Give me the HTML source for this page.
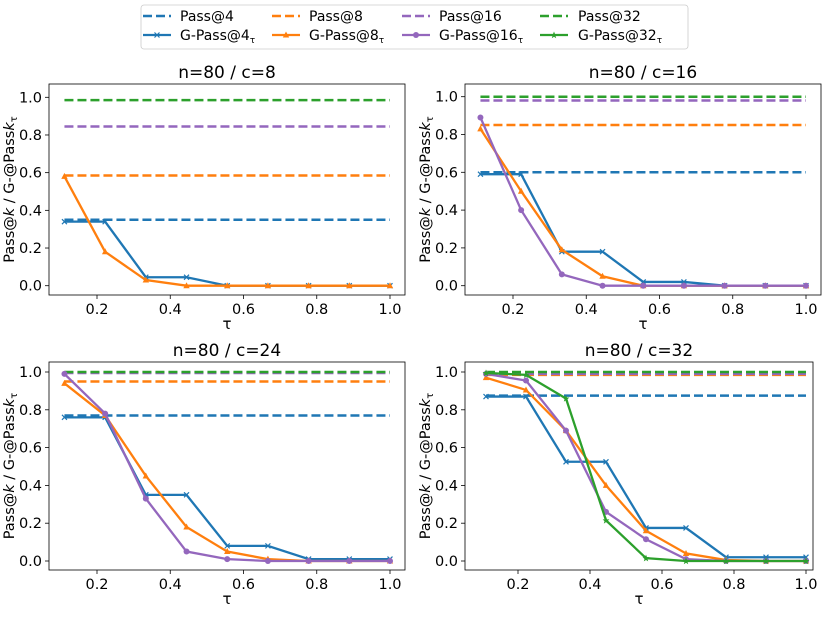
<!DOCTYPE html>
<html><head><meta charset="utf-8"><style>
body{margin:0;background:#fff;font-family:"Liberation Sans","DejaVu Sans",sans-serif;}
svg text{font-family:"DejaVu Sans","Liberation Sans",sans-serif;}
</style></head><body>
<svg id="c" width="828" height="612" xmlns="http://www.w3.org/2000/svg"></svg>
<script>
const taus=[1/9,2/9,3/9,4/9,5/9,6/9,7/9,8/9,1];
const xTicks=[0.2,0.4,0.6,0.8,1.0];
const yTicks=[0.0,0.2,0.4,0.6,0.8,1.0];
const titles=["n=80 / c=8","n=80 / c=16","n=80 / c=24","n=80 / c=32"];
const pass4=[0.35,0.60,0.77,0.875];
const pass8=[0.585,0.85,0.95,0.985];
const pass16=[0.845,0.98,0.995,0.99];
const pass32=[0.985,1.0,1.0,1.0];
const g4=[[.34,.34,.045,.045,0,0,0,0,0],[.59,.59,.18,.18,.02,.02,0,0,0],[.76,.76,.35,.35,.08,.08,.01,.01,.01],[.87,.87,.525,.525,.175,.175,.02,.02,.02]];
const g8=[[.58,.18,.03,0,0,0,0,0,0],[.83,.5,.19,.05,0,0,0,0,0],[.94,.77,.45,.18,.05,.01,0,0,0],[.97,.905,.69,.40,.16,.04,.005,0,0]];
const g16=[null,[.89,.40,.06,0,0,0,0,0,0],[.99,.78,.33,.05,.01,0,0,0,0],[.99,.955,.69,.26,.115,.01,0,0,0]];
const g32=[null,null,null,[.995,.985,.86,.215,.015,0,0,0,0]];
const C={b:"#1f77b4",o:"#ff7f0e",p:"#9467bd",g:"#2ca02c"};
const panels=[
 {L:49,R:405,T:84,B:295,x02:97,x10:390,y0:285.7,y1:97.3},
 {L:465,R:821,T:84,B:295,x02:513,x10:806,y0:285.7,y1:96.7},
 {L:49,R:405,T:362,B:570,x02:97,x10:390,y0:561,y1:372},
 {L:465,R:813,T:362,B:570,x02:518,x10:806,y0:561,y1:372}];
const svg=document.getElementById('c');
const NS="http://www.w3.org/2000/svg";
function mk(t,a,p){const e=document.createElementNS(NS,t);for(const k in a)e.setAttribute(k,a[k]);(p||svg).appendChild(e);return e;}
function marker(g,type,x,y,col){
 if(type==='x'){const s=2.5;mk('path',{d:`M${x-s},${y-s}L${x+s},${y+s}M${x-s},${y+s}L${x+s},${y-s}`,stroke:col,'stroke-width':1.2},g);}
 else if(type==='^'){mk('path',{d:`M${x},${y-3.5}L${x+3.2},${y+2.5}L${x-3.2},${y+2.5}Z`,fill:col},g);}
 else if(type==='o'){mk('circle',{cx:x,cy:y,r:3,fill:col},g);}
 else {mk('path',{d:`M${x},${y-3.5}L${x+1},${y-1}L${x+3.4},${y-1}L${x+1.5},${y+.8}L${x+2.2},${y+3.2}L${x},${y+1.8}L${x-2.2},${y+3.2}L${x-1.5},${y+.8}L${x-3.4},${y-1}L${x-1},${y-1}Z`,fill:col},g);}
}
panels.forEach((P,i)=>{
 const g=mk('g',{});
 
 
 const sx=v=>P.x02+(v-0.2)*(P.x10-P.x02)/0.8;
 const sy=v=>P.y0+v*(P.y1-P.y0);
 const t=mk('text',{x:(P.L+P.R)/2,y:P.T-6,'text-anchor':'middle','font-size':17},g);t.textContent=titles[i];
 
 xTicks.forEach(v=>{mk('line',{x1:sx(v),x2:sx(v),y1:P.B,y2:P.B+4,stroke:'#000','stroke-width':0.8},g);
  const tt=mk('text',{x:sx(v),y:P.B+19,'text-anchor':'middle','font-size':14.5},g);tt.textContent=v.toFixed(1);});
 yTicks.forEach(v=>{mk('line',{x1:P.L-4,x2:P.L,y1:sy(v),y2:sy(v),stroke:'#000','stroke-width':0.8},g);
  const tt=mk('text',{x:P.L-7,y:sy(v)+5,'text-anchor':'end','font-size':14.5},g);tt.textContent=v.toFixed(1);});
 const xl=mk('text',{x:(P.L+P.R)/2,y:P.B+34,'text-anchor':'middle','font-size':15},g);xl.textContent='τ';
 
 const yl=mk('text',{x:0,y:0,'text-anchor':'middle','font-size':14.5,transform:`translate(${P.L-35},${(P.T+P.B)/2}) rotate(-90)`},g);
 yl.innerHTML='Pass@<tspan font-style="italic">k</tspan> / G-@Pass<tspan font-style="italic">k</tspan><tspan font-size="10" dy="3">τ</tspan>';
 
 [[pass4,C.b],[pass8,C.o],[pass16,C.p],[pass32,C.g]].forEach(([a,col])=>{
  const l=mk('line',{x1:sx(taus[0]),x2:sx(1),y1:sy(a[i]),y2:sy(a[i]),stroke:col,'stroke-width':2.5,'stroke-dasharray':'9,4'},g);
  });
 [[g4,C.b,'x'],[g8,C.o,'^'],[g16,C.p,'o'],[g32,C.g,'*']].forEach(([a,col,m])=>{
  const d=a[i];if(!d)return;
  const pl=mk('polyline',{points:d.map((v,j)=>sx(taus[j])+','+sy(v)).join(' '),fill:'none',stroke:col,'stroke-width':2.3},g);
  
  d.forEach((v,j)=>marker(g,m,sx(taus[j]),sy(v),col));});
 mk('rect',{x:P.L,y:P.T,width:P.R-P.L,height:P.B-P.T,fill:'none',stroke:'#000','stroke-width':0.8},g);
});
// legend
const lg=mk('g',{});


mk('rect',{x:141,y:5,width:547,height:44,rx:3,fill:'#fff',stroke:'#ccc','stroke-width':0.8},lg);
const legCols=[143,272,402,540],legText=[180,309,439,578];
const legCol=[C.b,C.o,C.p,C.g],legM=['x','^','o','*'];
const legA=['Pass@4','Pass@8','Pass@16','Pass@32'],legB=['4','8','16','32'];
legCols.forEach((x,i)=>{
 mk('line',{x1:x,x2:x+28,y1:16,y2:16,stroke:legCol[i],'stroke-width':2.5,'stroke-dasharray':'9,4'},lg);
 const a=mk('text',{x:legText[i],y:21,'font-size':14},lg);a.textContent=legA[i];
 
 mk('line',{x1:x,x2:x+28,y1:35,y2:35,stroke:legCol[i],'stroke-width':2.3},lg);
 marker(lg,legM[i],x+14,35,legCol[i]);
 const b=mk('text',{x:legText[i],y:40,'font-size':14},lg);b.innerHTML='G-Pass@'+legB[i]+'<tspan font-size="9" dy="3">τ</tspan>';
 
});
</script>
</body></html>
